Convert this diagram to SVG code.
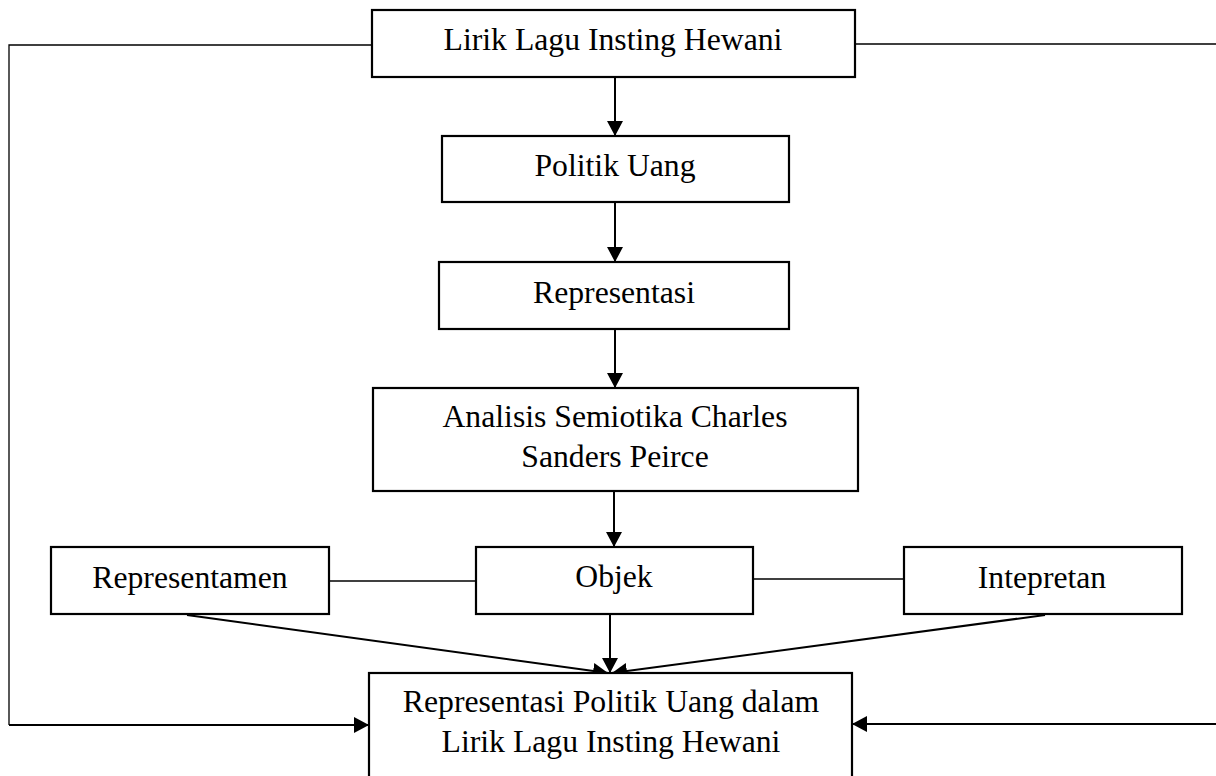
<svg xmlns="http://www.w3.org/2000/svg" width="1216" height="776" viewBox="0 0 1216 776">
<style>
.box{fill:#fff;stroke:#000;stroke-width:2.2}
.lbl{font-family:"Liberation Serif","Times New Roman",serif;font-size:31.7px;fill:#000;text-anchor:middle}
.arr{fill:none;stroke:#000;stroke-width:2;marker-end:url(#ah)}
.thin{fill:none;stroke:#000;stroke-width:1.3}
</style>
<defs>
<marker id="ah" viewBox="0 0 15 16" refX="15" refY="8" markerWidth="15" markerHeight="16" markerUnits="userSpaceOnUse" orient="auto">
<path d="M0,0 L15,8 L0,16 Z" fill="#000"/>
</marker>
</defs>
<g id="connectors">
<path class="thin" d="M372,45 H9 V725"/>
<path class="arr" d="M9,725 H369"/>
<path class="thin" d="M855,44 H1220 V724"/>
<path class="arr" d="M1220,724 H852"/>
<path class="arr" d="M615,78 V136"/>
<path class="arr" d="M615,203 V262"/>
<path class="arr" d="M615,330 V388"/>
<path class="arr" d="M614,492 V547"/>
<path class="arr" d="M610,615 V673"/>
<path class="arr" d="M187,615 L608,673"/>
<path class="arr" d="M1045,615 L612,673"/>
<path class="thin" d="M329,581 H476"/>
<path class="thin" d="M753,579 H904"/>
</g>
<g id="n-lirik">
<rect class="box" x="372" y="10" width="483" height="67"/>
<text class="lbl" x="613" y="50">Lirik Lagu Insting Hewani</text>
</g>
<g id="n-politik">
<rect class="box" x="442" y="136" width="347" height="66"/>
<text class="lbl" x="615" y="176">Politik Uang</text>
</g>
<g id="n-representasi">
<rect class="box" x="439" y="262" width="350" height="67"/>
<text class="lbl" x="614" y="303">Representasi</text>
</g>
<g id="n-analisis">
<rect class="box" x="373" y="388" width="485" height="103"/>
<text class="lbl" x="615" y="427">Analisis Semiotika Charles</text>
<text class="lbl" x="615" y="467">Sanders Peirce</text>
</g>
<g id="n-representamen">
<rect class="box" x="51" y="547" width="278" height="67"/>
<text class="lbl" x="190" y="588">Representamen</text>
</g>
<g id="n-objek">
<rect class="box" x="476" y="547" width="277" height="67"/>
<text class="lbl" x="614" y="587">Objek</text>
</g>
<g id="n-intepretan">
<rect class="box" x="904" y="547" width="278" height="67"/>
<text class="lbl" x="1042" y="588">Intepretan</text>
</g>
<g id="n-hasil">
<rect class="box" x="369" y="673" width="483" height="120"/>
<text class="lbl" x="611" y="712">Representasi Politik Uang dalam</text>
<text class="lbl" x="611" y="752">Lirik Lagu Insting Hewani</text>
</g>
</svg>
